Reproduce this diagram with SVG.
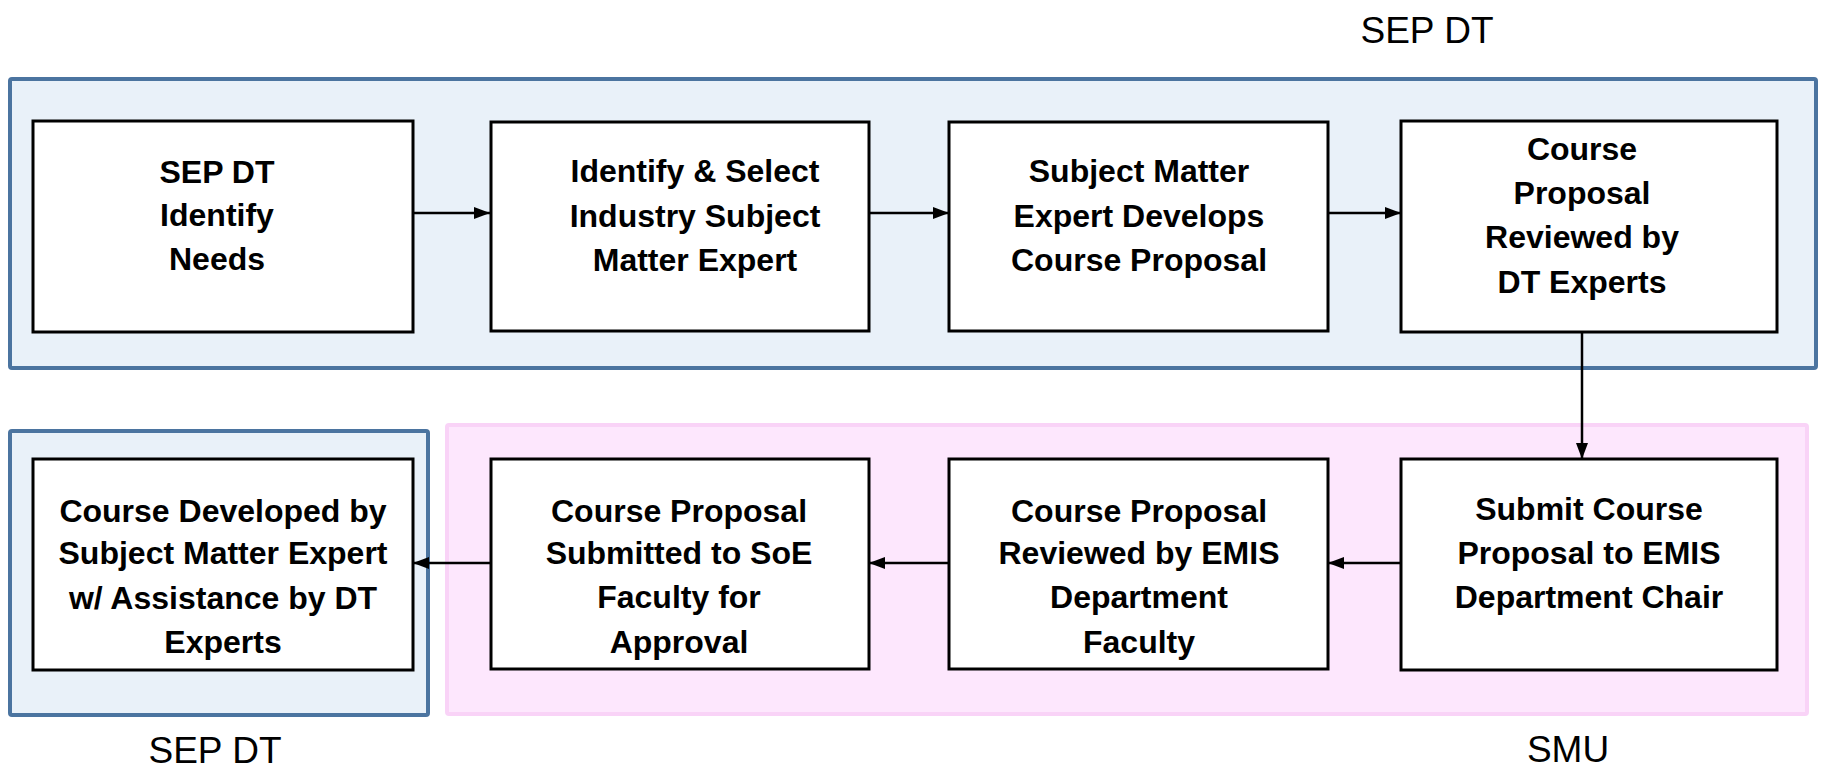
<svg xmlns="http://www.w3.org/2000/svg" width="1826" height="772" viewBox="0 0 1826 772">
<style>
.sep{fill:#e9f1f9;stroke:#4b74a0;stroke-width:4}
.smu{fill:#fde7fd;stroke:#f9d3f7;stroke-width:4}
.box{fill:#ffffff;stroke:#000000;stroke-width:3}
.t{font-family:"Liberation Sans",Arial,sans-serif;font-weight:bold;font-size:32px;fill:#000;text-anchor:middle}
.lbl{font-family:"Liberation Sans",Arial,sans-serif;font-size:37px;fill:#000;text-anchor:middle}
.c{stroke:#000;stroke-width:2.5;fill:none;marker-end:url(#ah)}
</style>
<defs>
<marker id="ah" viewBox="0 0 16 12" refX="16" refY="6" markerWidth="16" markerHeight="12" markerUnits="userSpaceOnUse" orient="auto">
<path d="M0,0 L16,6 L0,12 Z" fill="#000"/>
</marker>
</defs>
<g id="groups">
<rect id="grp-sepdt-top" class="sep" x="10" y="79" width="1806" height="289" rx="2"/>
<rect id="grp-smu" class="smu" x="447" y="425" width="1360" height="289" rx="2"/>
<rect id="grp-sepdt-bottom" class="sep" x="10" y="431" width="418" height="284" rx="2"/>
<text class="lbl" x="1427" y="43">SEP DT</text>
<text class="lbl" x="215" y="763">SEP DT</text>
<text class="lbl" x="1568" y="762">SMU</text>
</g>
<g id="connectors">
<line class="c" x1="413" y1="213" x2="490" y2="213"/>
<line class="c" x1="869" y1="213" x2="949" y2="213"/>
<line class="c" x1="1328" y1="213" x2="1401" y2="213"/>
<line class="c" x1="1582" y1="332" x2="1582" y2="459"/>
<line class="c" x1="1401" y1="563" x2="1328" y2="563"/>
<line class="c" x1="949" y1="563" x2="869" y2="563"/>
<line class="c" x1="491" y1="563" x2="413" y2="563"/>
</g>
<g id="n1">
<rect class="box" x="33" y="121" width="380" height="211"/>
<text class="t"><tspan x="217" y="183">SEP DT</tspan><tspan x="217" y="226">Identify</tspan><tspan x="217" y="270">Needs</tspan></text>
</g>
<g id="n2">
<rect class="box" x="491" y="122" width="378" height="209"/>
<text class="t"><tspan x="695" y="182">Identify &amp; Select</tspan><tspan x="695" y="227">Industry Subject</tspan><tspan x="695" y="271">Matter Expert</tspan></text>
</g>
<g id="n3">
<rect class="box" x="949" y="122" width="379" height="209"/>
<text class="t"><tspan x="1139" y="182">Subject Matter</tspan><tspan x="1139" y="227">Expert Develops</tspan><tspan x="1139" y="271">Course Proposal</tspan></text>
</g>
<g id="n4">
<rect class="box" x="1401" y="121" width="376" height="211"/>
<text class="t"><tspan x="1582" y="160">Course</tspan><tspan x="1582" y="204">Proposal</tspan><tspan x="1582" y="248">Reviewed by</tspan><tspan x="1582" y="293">DT Experts</tspan></text>
</g>
<g id="n5">
<rect class="box" x="1401" y="459" width="376" height="211"/>
<text class="t"><tspan x="1589" y="520">Submit Course</tspan><tspan x="1589" y="564">Proposal to EMIS</tspan><tspan x="1589" y="608">Department Chair</tspan></text>
</g>
<g id="n6">
<rect class="box" x="949" y="459" width="379" height="210"/>
<text class="t"><tspan x="1139" y="522">Course Proposal</tspan><tspan x="1139" y="564">Reviewed by EMIS</tspan><tspan x="1139" y="608">Department</tspan><tspan x="1139" y="653">Faculty</tspan></text>
</g>
<g id="n7">
<rect class="box" x="491" y="459" width="378" height="210"/>
<text class="t"><tspan x="679" y="522">Course Proposal</tspan><tspan x="679" y="564">Submitted to SoE</tspan><tspan x="679" y="608">Faculty for</tspan><tspan x="679" y="653">Approval</tspan></text>
</g>
<g id="n8">
<rect class="box" x="33" y="459" width="380" height="211"/>
<text class="t"><tspan x="223" y="522">Course Developed by</tspan><tspan x="223" y="564">Subject Matter Expert</tspan><tspan x="223" y="609">w/ Assistance by DT</tspan><tspan x="223" y="653">Experts</tspan></text>
</g>
</svg>
